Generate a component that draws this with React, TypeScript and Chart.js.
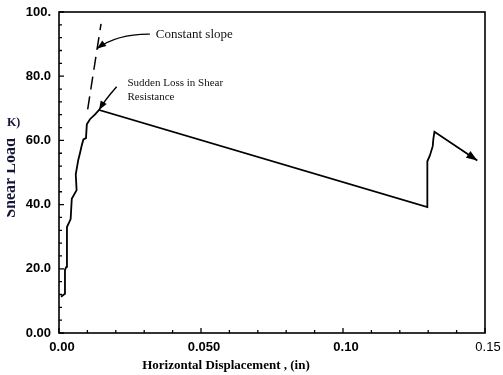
import React, { useEffect, useRef } from "react";
import { Chart, registerables } from "chart.js";

Chart.register(...registerables);

// Measured load–displacement curve (in, kips)
const curveX = [0.0007, 0.0021, 0.0021, 0.0026, 0.0028, 0.0041, 0.0045, 0.0062, 0.0059, 0.0068, 0.0074, 0.008, 0.0086, 0.0095, 0.0098, 0.0109, 0.0127, 0.0141, 0.1297, 0.1297, 0.1306, 0.1316, 0.1318, 0.1322, 0.1473];
const curveY = [11.3, 12.2, 19.7, 20.6, 33.0, 35.5, 41.8, 44.5, 49.4, 54.0, 56.1, 58.4, 60.3, 60.7, 65.0, 66.6, 68.1, 69.5, 39.2, 53.5, 55.3, 58.2, 60.3, 62.7, 53.75];

// Constant slope (dashed) line
const slopeX = [0.0101, 0.0148];
const slopeY = [69.7, 96.3];

// Tick labels
const xTickLabels = ["0.00", "0.050", "0.10", "0.15"];
const yTickLabels = ["0.00", "20.0", "40.0", "60.0", "80.0", "100."];

const xTitle = "Horizontal Displacement , (in)";
const yTitle = "Shear Load";
const yTitleTail = "K)";
const noteSlope = "Constant slope";
const noteLoss = ["Sudden Loss in Shear", "Resistance"];

const SANS = "'Liberation Sans', Arial, Helvetica, sans-serif";
const SERIF = "'Liberation Serif', 'Times New Roman', Times, serif";

function arrowHead(ctx: CanvasRenderingContext2D, fx: number, fy: number, tx: number, ty: number, len: number, half: number) {
  const a = Math.atan2(ty - fy, tx - fx);
  ctx.beginPath();
  ctx.moveTo(tx, ty);
  ctx.lineTo(tx - len * Math.cos(a) + half * Math.sin(a), ty - len * Math.sin(a) - half * Math.cos(a));
  ctx.lineTo(tx - len * Math.cos(a) - half * Math.sin(a), ty - len * Math.sin(a) + half * Math.cos(a));
  ctx.closePath();
  ctx.fill();
}

const decorPlugin = {
  id: "decor",
  afterDraw(chart: any) {
    const { ctx, chartArea } = chart;
    const xs = chart.scales.x;
    const ys = chart.scales.y;
    const X = (v: number) => xs.getPixelForValue(v);
    const Y = (v: number) => ys.getPixelForValue(v);
    ctx.save();
    ctx.strokeStyle = "#000";
    ctx.fillStyle = "#000";

    // frame
    ctx.lineWidth = 1.6;
    ctx.strokeRect(chartArea.left, chartArea.top, chartArea.right - chartArea.left, chartArea.bottom - chartArea.top);

    // inward ticks
    ctx.lineWidth = 1.3;
    ctx.beginPath();
    for (let v = 0; v <= 100; v += 4) {
      const len = v % 20 === 0 ? 5 : 3;
      ctx.moveTo(chartArea.left, Y(v));
      ctx.lineTo(chartArea.left + len, Y(v));
    }
    for (let i = 0; i <= 15; i++) {
      const v = i / 100;
      const len = i % 5 === 0 ? 5 : 3;
      ctx.moveTo(X(v), chartArea.bottom);
      ctx.lineTo(X(v), chartArea.bottom - len);
    }
    ctx.stroke();

    // end-of-curve arrowhead
    const n = curveX.length;
    arrowHead(ctx, X(curveX[n - 2]), Y(curveY[n - 2]), X(curveX[n - 1]), Y(curveY[n - 1]), 11, 4);

    // "Constant slope" pointer
    const sx0 = X(0.032), sy0 = Y(93.1);
    const scx = X(0.0205), scy = Y(93.2);
    const sx1 = X(0.0134), sy1 = Y(88.6);
    ctx.lineWidth = 1.4;
    ctx.beginPath();
    ctx.moveTo(sx0, sy0);
    ctx.quadraticCurveTo(scx, scy, sx1, sy1);
    ctx.stroke();
    arrowHead(ctx, scx, scy, sx1, sy1, 9, 3.5);

    // "Sudden Loss" pointer
    const lx0 = X(0.0203), ly0 = Y(76.7);
    const lx1 = X(curveX[17]), ly1 = Y(curveY[17]);
    ctx.beginPath();
    ctx.moveTo(lx0, ly0);
    ctx.quadraticCurveTo(X(0.0162), Y(72.6), lx1, ly1);
    ctx.stroke();
    arrowHead(ctx, X(0.0162), Y(72.6), lx1, ly1, 9, 3.5);

    // notes
    ctx.fillStyle = "#111";
    ctx.textBaseline = "middle";
    ctx.textAlign = "left";
    ctx.font = `13px ${SERIF}`;
    ctx.fillText(noteSlope, X(0.0341), Y(92.9));
    ctx.font = `11px ${SERIF}`;
    ctx.fillText(noteLoss[0], X(0.0241), Y(77.9));
    ctx.fillText(noteLoss[1], X(0.0241), Y(73.6));

    // axis titles
    ctx.fillStyle = "#000";
    ctx.font = `bold 13px ${SERIF}`;
    ctx.textAlign = "center";
    ctx.fillText(xTitle, 226, 366);

    ctx.fillStyle = "#15153a";
    ctx.save();
    ctx.beginPath();
    ctx.rect(7, 0, 60, 375);
    ctx.clip();
    ctx.translate(15, 178);
    ctx.rotate(-Math.PI / 2);
    ctx.font = `bold 16px ${SERIF}`;
    ctx.textAlign = "center";
    ctx.textBaseline = "alphabetic";
    ctx.fillText(yTitle, 0, 0);
    ctx.restore();

    ctx.font = `bold 12px ${SERIF}`;
    ctx.textAlign = "left";
    ctx.textBaseline = "middle";
    ctx.fillText(yTitleTail, 7, 123);

    ctx.restore();
  },
};

export default function App() {
  const ref = useRef<HTMLCanvasElement | null>(null);
  useEffect(() => {
    if (!ref.current) return;
    const chart = new Chart(ref.current, {
      type: "scatter",
      data: {
        datasets: [
          {
            data: curveX.map((x, i) => ({ x, y: curveY[i] })),
            showLine: true,
            borderColor: "#000",
            borderWidth: 1.8,
            pointRadius: 0,
            tension: 0,
          },
          {
            data: slopeX.map((x, i) => ({ x, y: slopeY[i] })),
            showLine: true,
            borderColor: "#000",
            borderWidth: 1.5,
            borderDash: [13, 7],
            pointRadius: 0,
            tension: 0,
          },
        ],
      },
      options: {
        responsive: false,
        animation: false,
        layout: { padding: { left: 0, right: 18, top: 12, bottom: 0 } },
        plugins: { legend: { display: false }, tooltip: { enabled: false }, title: { display: false } },
        scales: {
          x: {
            type: "linear",
            min: 0,
            max: 0.15,
            grid: { display: false, drawTicks: false },
            border: { display: false },
            ticks: {
              stepSize: 0.05,
              autoSkip: false,
              maxRotation: 0,
              padding: 7,
              labelOffset: 3,
              color: "#000",
              font: (c: any) => ({ family: SANS, size: 13, weight: c.index === 3 ? "normal" : "bold" }),
              callback: (_v: any, i: number) => xTickLabels[i],
            },
            afterFit: (s: any) => {
              s.height = 42;
              s.paddingLeft = 0;
              s.paddingRight = 0;
            },
          },
          y: {
            type: "linear",
            min: 0,
            max: 100,
            grid: { display: false, drawTicks: false },
            border: { display: false },
            ticks: {
              stepSize: 20,
              padding: 8,
              color: "#000",
              font: { family: SANS, size: 13, weight: "bold" },
              callback: (_v: any, i: number) => yTickLabels[i],
            },
            afterFit: (s: any) => {
              s.width = 59;
              s.paddingTop = 0;
              s.paddingBottom = 0;
            },
          },
        },
      },
      plugins: [decorPlugin],
    });
    return () => chart.destroy();
  }, []);
  return (
    <div style={{ position: "fixed", left: 0, top: 0, width: 503, height: 375, background: "#fff" }}>
      <canvas ref={ref} width={503} height={375} style={{ display: "block" }} />
    </div>
  );
}
